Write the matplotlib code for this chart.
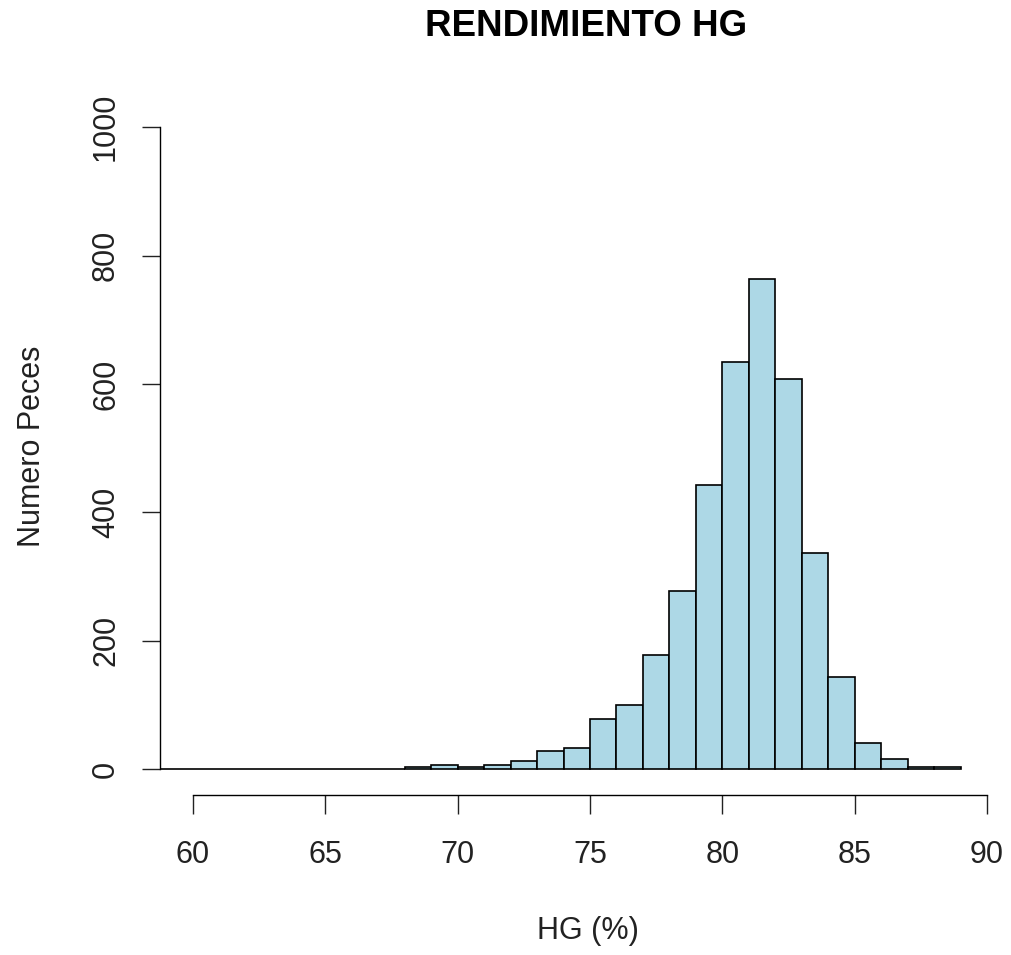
import matplotlib.pyplot as plt

# histogram bins (left edges, width 1) and counts
bin_left = list(range(58, 89))
counts = [0, 0, 0, 0, 0, 0, 0, 0, 0, 0,
          3, 6, 3, 6, 12, 28, 33, 78, 100, 178,
          278, 443, 634, 764, 608, 336, 143, 41, 15, 3, 3]
x_ticks = [60, 65, 70, 75, 80, 85, 90]
y_ticks = [0, 200, 400, 600, 800, 1000]

W, H = 1011, 955
plt.rcParams['font.family'] = ['Liberation Sans', 'DejaVu Sans']

fig = plt.figure(figsize=(W / 100, H / 100), dpi=100)
ax = fig.add_axes([160 / W, 1 - 795 / H, (W - 160) / W, (795 - 101.6) / H])

ax.bar(bin_left, counts, width=1, align='edge', color='#ADD8E6',
       edgecolor='black', linewidth=1.2)

ax.set_xlim(58.753, 90.906)
ax.set_ylim(-40.5, 1040)

for s in ['top', 'right']:
    ax.spines[s].set_visible(False)
ax.spines['left'].set_bounds(0, 1000)
ax.spines['bottom'].set_bounds(60, 90)
ax.spines['left'].set_linewidth(1.0)
ax.spines['bottom'].set_linewidth(1.0)
ax.spines['bottom'].set_position(('outward', 0))

ax.set_xticks(x_ticks)
ax.set_yticks(y_ticks)
ax.set_xticklabels([str(v) for v in x_ticks])
ax.set_yticklabels([str(v) for v in y_ticks], rotation=90, va='center')
ax.tick_params(axis='x', length=13.7, width=1.0, pad=19, labelsize=22, colors='#222222')
ax.tick_params(axis='y', length=13, width=1.0, pad=15, labelsize=22, colors='#222222')

fig.text(586 / W, 1 - 36 / H, 'RENDIMIENTO HG', ha='center', va='baseline',
         fontsize=26.5, fontweight='bold')
fig.text(588 / W, 1 - 939 / H, 'HG (%)', ha='center', va='baseline', fontsize=22,
         color='#222222')
fig.text(40 / W, 1 - 446.5 / H, 'Numero Peces', ha='center', va='baseline', fontsize=22,
         rotation=90, rotation_mode='anchor', color='#222222')

fig.savefig('out.png', dpi=100)
